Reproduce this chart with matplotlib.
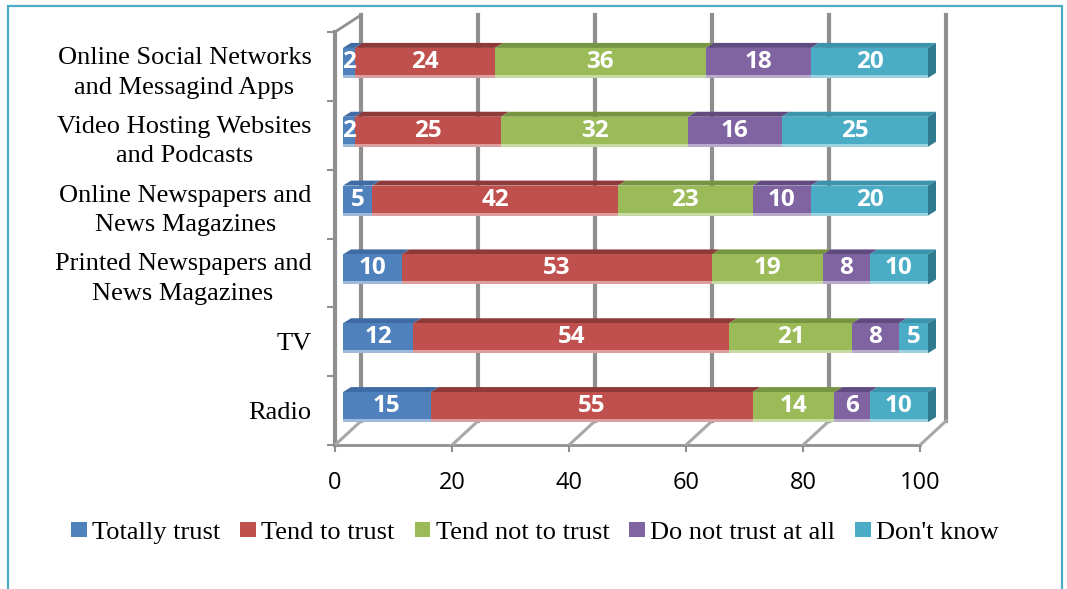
import numpy as np
import matplotlib
matplotlib.use("Agg")
import matplotlib.pyplot as plt
from matplotlib.patches import Polygon, Patch, Rectangle
from matplotlib.lines import Line2D

# ── data (bottom to top) ─────────────────────────────────────────────────────
categories = ["Radio", "TV",
              "Printed Newspapers and\nNews Magazines",
              "Online Newspapers and\nNews Magazines",
              "Video Hosting Websites\nand Podcasts",
              "Online Social Networks\nand Messagind Apps"]
totally_trust   = [15, 12, 10, 5, 2, 2]
tend_to_trust   = [55, 54, 53, 42, 25, 24]
tend_not_trust  = [14, 21, 19, 23, 32, 36]
not_trust_all   = [6, 8, 8, 10, 16, 18]
dont_know       = [10, 5, 10, 20, 25, 20]
series_names = ["Totally trust", "Tend to trust", "Tend not to trust",
                "Do not trust at all", "Don't know"]
x_ticks = [0, 20, 40, 60, 80, 100]

FRONT = ["#4F81BD", "#C0504D", "#9BBB59", "#8064A2", "#4BACC6"]
TOP   = ["#3E6BA3", "#8E3A38", "#779540", "#614A80", "#3B93AC"]
SIDE  = "#2F7A8E"
GRID  = "#8F8F8F"

# ── figure / axes geometry (pixels) ──────────────────────────────────────────
W, H = 1067, 589
L, R, T, B = 335, 920, 32, 445
fig = plt.figure(figsize=(W / 100, H / 100), dpi=100)
ax = fig.add_axes([L / W, 1 - B / H, (R - L) / W, (B - T) / H])
ax.set_xlim(0, 100)
ax.set_ylim(-0.5, 5.5)
for s in ax.spines.values():
    s.set_visible(False)

ux = 100 / (R - L)      # data units per pixel
uy = 6 / (B - T)

def off(dx, dy):
    return dx * ux, dy * uy

wx, wy = off(26, 24)    # back wall
fx, fy = off(8, 3.5)    # bar front face
bx, by = off(8, 5)      # bar depth
top_y = 5.5 + 17 * uy

# back wall gridlines
for xt in x_ticks:
    ax.add_line(Line2D([xt + wx, xt + wx], [-0.5 + wy, top_y], color=GRID,
                       lw=3, zorder=1, clip_on=False))
# left wall
ax.add_line(Line2D([0, 0], [-0.5, 5.5], color=GRID, lw=3, zorder=1, clip_on=False))
ax.add_line(Line2D([0, wx], [5.5, top_y], color=GRID, lw=2, zorder=1, clip_on=False))
# floor
ax.add_line(Line2D([0, 100], [-0.5, -0.5], color=GRID, lw=2, zorder=1, clip_on=False))
for xt in x_ticks:
    ax.add_line(Line2D([xt, xt + wx], [-0.5, -0.5 + wy], color="#A8A8A8",
                       lw=2.2, zorder=1, clip_on=False))

# ── bars ─────────────────────────────────────────────────────────────────────
h = 30 * uy
strip = 3 * uy
ys = np.arange(len(categories))
data = [totally_trust, tend_to_trust, tend_not_trust, not_trust_all, dont_know]
left = np.zeros(len(categories))
for k, vals in enumerate(data):
    vals = np.array(vals, dtype=float)
    lighter = tuple(0.55 * np.array(matplotlib.colors.to_rgb(FRONT[k])) + 0.45)
    ax.barh(ys + fy, vals, left=left + fx, height=h, color=FRONT[k],
            zorder=3, clip_on=False)
    ax.barh(ys + fy - h / 2 + strip / 2, vals, left=left + fx, height=strip,
            color=lighter, zorder=3, clip_on=False)
    for i, v in enumerate(vals):
        x0 = left[i] + fx
        y1 = ys[i] + fy + h / 2
        ax.add_patch(Polygon([(x0, y1), (x0 + v, y1), (x0 + v + bx, y1 + by),
                              (x0 + bx, y1 + by)], closed=True, color=TOP[k],
                             zorder=2.5, clip_on=False, lw=0))
        if k == len(data) - 1:
            y0 = ys[i] + fy - h / 2
            ax.add_patch(Polygon([(x0 + v, y0), (x0 + v + bx, y0 + by),
                                  (x0 + v + bx, y1 + by), (x0 + v, y1)],
                                 closed=True, color=SIDE, zorder=2.5,
                                 clip_on=False, lw=0))
        ax.text(x0 + v / 2, ys[i] + fy + 1 * uy, f"{int(v)}", ha="center",
                va="center", color="white", fontsize=17.5, fontweight="bold",
                family="Open Sans", zorder=4, clip_on=False)
    left += vals

# ── axes ticks & labels ──────────────────────────────────────────────────────
ax.set_xticks(x_ticks)
ax.set_xticklabels([str(t) for t in x_ticks], family="Open Sans", fontsize=17)
ax.tick_params(axis="x", length=5, width=1.5, color=GRID, pad=14)
ax.set_yticks(ys)
ax.set_yticklabels(categories, family="Liberation Serif", fontsize=19,
                   multialignment="center", linespacing=1.45)
ax.tick_params(axis="y", which="major", length=0, pad=17)
ax.set_yticks(np.arange(-0.5, 6, 1), minor=True)
ax.tick_params(axis="y", which="minor", length=6, width=1.5, color=GRID)

# ── legend ───────────────────────────────────────────────────────────────────
handles = [Patch(facecolor=c, edgecolor="none") for c in FRONT]
fig.legend(handles, series_names, loc="center", bbox_to_anchor=(535 / W, 1 - 533 / H),
           ncol=5, frameon=False, handlelength=0.6, handleheight=0.5,
           handletextpad=0.2, columnspacing=0.75,
           prop={"family": "Liberation Serif", "size": 19})

# outer border (bottom edge falls outside the picture)
fig.add_artist(Rectangle((8 / W, -0.1), (1062 - 8) / W, 1.1 - 6 / H,
                         transform=fig.transFigure, fill=False,
                         edgecolor="#4BACC6", lw=1.6))

fig.savefig("out.png", dpi=100)
